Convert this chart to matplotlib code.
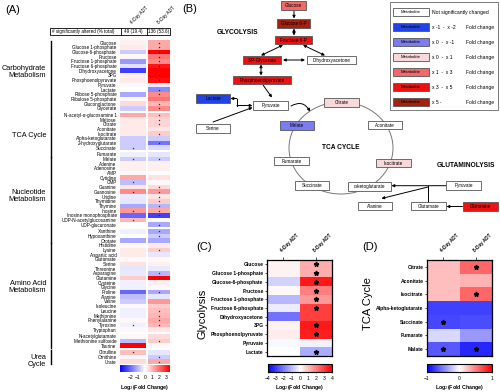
import numpy as np
import matplotlib
matplotlib.use("Agg")
import matplotlib.pyplot as plt
from matplotlib.colors import LinearSegmentedColormap
from matplotlib.patches import Rectangle, Ellipse
from matplotlib.cm import ScalarMappable
from matplotlib.colors import Normalize

plt.rcParams['font.family'] = ['Liberation Sans', 'DejaVu Sans']

# ---- panel A data (log2 fold change, 4-day / 8-day ADT) ----
a_names = ["Glucose", "Glucose 1-phosphate", "Glucose-6-phosphate", "Fructose",
           "Fructose 1-phosphate", "Fructose 6-phosphate", "Dihydroxyacetone", "3PG",
           "Phosphoenolpyruvate", "Pyruvate", "Lactate", "Ribose 5-phosphate",
           "Ribulose 5-phosphate", "Gluconolactone", "Glycerate",
           "N-acetyl-α-glucosamine 1", "Maltose", "Citrate", "Aconitate", "Isocitrate",
           "Alpha-ketoglutarate", "2-hydroxyglutarate", "Succinate",
           "Fumarate", "Malate", "Adenine", "Adenosine", "AMP", "Cytidine", "CMP",
           "Guanine", "Guanosine", "Uridine", "Thymidine", "Thymine", "Inosine",
           "Inosine monophosphate", "UDP-N-acetylglucosamine", "UDP-glucuronate",
           "Xanthine", "Hypoxanthine", "Orotate", "Histidine", "Lysine", "Aspartic acid",
           "Glutamate", "Serine", "Threonine", "Asparagine", "Glutamine", "Cysteine",
           "Glycine", "Proline", "Alanine", "Valine", "Isoleucine", "Leucine",
           "Methionine", "Phenylalanine", "Tyrosine", "Tryptophan",
           "N-acetylglutamate", "Methionine sulfoxide", "Taurine",
           "Citrulline", "Ornithine", "Urate"]
a_d4 = [0.2, 0.3, -0.7, 0.1, -1.4, -0.4, -2.6, 0.2, 0.3, -0.1, 0.0, -1.2, 0.1, 0.5, -0.7,
        1.2, 0.3, 0.3, 0.3, 0.3, -0.7, -0.7, -0.7,
        -0.2, -0.7, 0.2, 0.2, 0.1, 1.2, -0.9, 0.35, 1.6, -0.3, -0.35, -1.2, 1.4,
        -2.1, 1.0, 0.0, -0.2, 0.0, -1.2, 0.1, 0.3, 0.3, 0.1, 0.4, -0.35, -0.3, 0.7,
        -0.2, -0.2, -2.1, -0.9, -0.7, 0.1, -0.2, -0.2, 0.1, -0.2, 0.1,
        0.1, -0.9, 3.5, 0.9, -0.1, 0.5]
a_d8 = [1.2, 1.2, 3.5, 1.9, 1.6, 3.2, 3.5, 3.5, 3.3, -0.3, -1.6, 1.6, 1.9, 1.0, 1.6,
        0.9, 0.6, 0.6, 0.35, 0.7, -0.7, -1.9, -0.5,
        -0.35, -0.7, 0.2, 0.2, 0.0, 0.4, 0.1, 0.5, 1.4, 0.35, 0.7, -1.0, 1.2,
        -2.6, 0.1, -1.2, -1.2, -0.7, -1.2, 0.3, 0.7, -0.35, 0.1, 0.2, -0.3, -1.0, 3.5,
        0.2, 0.1, -1.2, -0.35, 1.4, 0.7, 0.9, 1.0, 1.2, 1.0, 0.35,
        0.5, 0.7, 0.1, -0.35, -0.7, 1.2]
a_sig4 = [22, 24, 29, 31, 35, 37, 59, 64]
a_sig8 = [0, 1, 2, 3, 4, 5, 7, 8, 10, 11, 13, 14, 15, 16, 17, 19, 21, 24, 30, 31, 32,
          33, 34, 35, 36, 38, 39, 40, 43, 48, 49, 52, 56, 57, 58, 59, 62, 65, 66]
a_gap_after = [14, 22, 38, 60, 63]
a_groups = ["Carbohydrate\nMetabolism", "TCA Cycle", "Nucleotide\nMetabolism",
            "Amino Acid\nMetabolism", "Urea\nCycle"]
a_group_rows = [(0, 15), (16, 23), (24, 41), (42, 63), (64, 66)]
a_counts = ["49 (19.4)", "136 (53.6)"]
a_ticks = [-2, -1, 0, 1, 2, 3]

# ---- panel C / D data ----
c_names = ["Glucose", "Glucose 1-phosphate", "Glucose-6-phosphate", "Fructose",
           "Fructose 1-phosphate", "Fructose 6-phosphate", "Dihydroxyacetone", "3PG",
           "Phosphoenolpyruvate", "Pyruvate", "Lactate"]
c_d4 = [0.2, 0.2, -0.7, 0.1, -1.1, -0.3, -2.2, 0.2, 0.3, -0.1, 0.0]
c_d8 = [1.3, 1.3, 3.6, 2.0, 1.6, 3.0, 3.0, 3.6, 3.5, -0.2, -1.3]
c_sig4 = []
c_sig8 = [0, 1, 2, 3, 4, 5, 7, 8, 10]
c_ticks = [-4, -3, -2, -1, 0, 1, 2, 3, 4]

d_names = ["Citrate", "Aconitate", "Isocitrate", "Alpha-ketoglutarate", "Succinate",
           "Fumarate", "Malate"]
d_d4 = [0.25, 0.25, 0.25, -0.75, -0.72, -0.15, -0.65]
d_d8 = [0.6, 0.3, 0.6, -0.75, -0.7, -0.4, -0.85]
d_sig4 = [4, 6]
d_sig8 = [0, 2, 6]
d_ticks = [-1, 0, 1]

columns = ["4-Day ADT", "8-Day ADT"]

# ---- panel B: pathway nodes and their change class ----
b_labels = ["Glucose", "Glucose 6-P", "Fructose 6-P", "3-P-Glycerate", "Dihydroxyacetone",
            "Phosphoenolpyruvate", "Lactate", "Pyruvate", "Citrate", "Serine", "Malate",
            "Aconitate", "Fumarate", "Isocitrate", "Succinate", "α-ketoglutarate",
            "Pyruvate", "Alanine", "Glutamate", "Glutamine"]
b_class = [4, 6, 5, 5, 0, 5, 1, 0, 3, 0, 2, 0, 0, 3, 0, 0, 0, 0, 0, 5]
legend_text = ["Not significantly changed", "x -1  -  x -2", "x 0  -  x -1", "x 0  -  x 1",
               "x 1  -  x 3", "x 3  -  x 5", "x 5 -"]

class_colors = ["#ffffff", "#2143e6", "#7c7cf0", "#f8d8d8", "#f06a6a", "#ee1111", "#a4200f"]
b_boxes = [(281, 1, 306, 10), (277, 19, 310, 28), (275, 36, 312, 44), (243, 56, 281, 64),
           (307, 56, 356, 64), (233, 76, 291, 84), (196, 94, 230, 103), (253, 101, 288, 110),
           (324, 98, 359, 107), (196, 124, 230, 133), (280, 121, 314, 130),
           (368, 121, 402, 129), (274, 157, 309, 165), (376, 159, 411, 167),
           (295, 181, 329, 190), (348, 182, 391, 191), (446, 181, 481, 190),
           (358, 202, 392, 210), (411, 202, 446, 210), (463, 202, 498, 211)]

W, H = 500, 392
fig = plt.figure(figsize=(5, 3.92), dpi=100)
bwr = LinearSegmentedColormap.from_list('bwr2', ['#0000ff', '#ffffff', '#ff0000'])


def px_axes(x0, y0, x1, y1):
    return fig.add_axes([x0 / W, 1 - y1 / H, (x1 - x0) / W, (y1 - y0) / H])


ov = px_axes(0, 0, W, H)
ov.set_xlim(0, W)
ov.set_ylim(H, 0)
ov.axis('off')

# ================= panel A =================
axA = px_axes(120, 40.4, 170, 364)
Z = []
yedges = [0.0]
ys = []
y = 0.0
for i in range(len(a_names)):
    Z.append([a_d4[i], np.nan, a_d8[i]])
    ys.append(y + 0.5)
    y += 1
    yedges.append(y)
    if i in a_gap_after:
        Z.append([np.nan, np.nan, np.nan])
        y += 0.43
        yedges.append(y)
xedges = [0, 1, 1.06, 1.92]
axA.pcolormesh(xedges, yedges, np.ma.masked_invalid(np.array(Z)), cmap=bwr,
               vmin=-3.5, vmax=3.5)
axA.set_xlim(0, 1.92)
axA.set_ylim(y, 0)
axA.set_yticks(ys)
axA.set_yticklabels(a_names, fontsize=3.3)
axA.tick_params(axis='y', length=0, pad=2.5)
axA.set_xticks([])
for s in axA.spines.values():
    s.set_visible(False)
axA.plot([0.5] * len(a_sig4), [ys[i] for i in a_sig4], ls='none', marker='*',
         ms=1.1, mew=0.2, color='#222222')
axA.plot([1.49] * len(a_sig8), [ys[i] for i in a_sig8], ls='none', marker='*',
         ms=1.1, mew=0.2, color='#222222')
tr = axA.get_yaxis_transform()
offs = [-1.5, -0.4, -0.8, -1.8, 0.9]
for name, (r0, r1), off in zip(a_groups, a_group_rows, offs):
    axA.plot([-1.38, -1.38], [ys[r0] - 0.45, ys[r1] + 0.45], color='k', lw=1.0,
             transform=tr, clip_on=False)
    axA.text(-1.48, (ys[r0] + ys[r1]) / 2 + off, name, transform=tr, ha='right',
             va='center', fontsize=5.3, multialignment='right', linespacing=1.05)

caxA = px_axes(120, 365, 170, 371.7)
cb = fig.colorbar(ScalarMappable(Normalize(-3.5, 3.5), bwr), cax=caxA,
                  orientation='horizontal', ticks=a_ticks)
cb.outline.set_visible(False)
caxA.tick_params(labelsize=3.6, length=0, pad=2.5)
ov.text(145, 387, 'Log$_2$(Fold Change)', ha='center', va='center', fontsize=3.8,
        fontweight='bold')

# header table
ov.add_patch(Rectangle((50, 28.3), 120, 6.7, fill=False, lw=0.6, ec='k'))
ov.plot([120.7, 120.7], [28.3, 35], color='k', lw=0.6)
ov.plot([146.7, 146.7], [28.3, 35], color='k', lw=0.6)
ov.text(52, 31.8, '# significantly altered (% total)', fontsize=3.3, va='center')
ov.text(133.7, 31.8, a_counts[0], fontsize=3.3, va='center', ha='center')
ov.text(159, 31.8, a_counts[1], fontsize=3.3, va='center', ha='center')
for x, lab in zip([133, 160], columns):
    ov.text(x, 25, lab, fontsize=3.3, rotation=45, ha='left', va='bottom',
            rotation_mode='anchor')
ov.text(5, 10, '(A)', fontsize=8, va='center')

# ================= panel B =================
ov.text(182, 9, '(B)', fontsize=8, va='center')
ov.add_patch(Ellipse((341, 148), 104, 92, fill=False, ec='#777777', lw=0.7, zorder=1))
for lab, cl, (x0, y0, x1, y1) in zip(b_labels, b_class, b_boxes):
    ov.add_patch(Rectangle((x0, y0), x1 - x0, y1 - y0, fc=class_colors[cl],
                           ec='#555555', lw=0.6, zorder=3))
    ov.text((x0 + x1) / 2, (y0 + y1) / 2, lab, fontsize=3.3, ha='center', va='center',
            zorder=4)


def arrow(p0, p1, style='-|>', **kw):
    ov.annotate('', xy=p1, xytext=p0,
                arrowprops=dict(arrowstyle=style, lw=0.7, color='k', shrinkA=0,
                                shrinkB=0, mutation_scale=4, **kw), zorder=2)


arrow((294, 10.5), (294, 18.5))
arrow((294, 28.5), (294, 35.5), '<|-|>')
arrow((283, 45), (261, 55.5), '<|-|>')
arrow((303, 45), (325, 55.5), '<|-|>')
arrow((283, 60), (305, 60), '<|-|>')
arrow((261, 64.5), (261, 75.5), '<|-|>')
arrow((263, 85), (272, 97.5))
ov.plot([237, 237], [98.5, 105.5], color='k', lw=0.7)
arrow((237, 98.5), (230.5, 98.5))
arrow((237, 105.5), (252.5, 105.5))
arrow((213, 122), (252.5, 107.5))
arrow((291, 106), (310, 111.5), connectionstyle='arc3,rad=-0.5')
arrow((446, 185.7), (391.5, 185.7))
ov.plot([427.7, 427.7], [185.7, 201.8], color='k', lw=0.7)
arrow((428, 187), (381.5, 198.5))
arrow((462.5, 206.5), (446.5, 206.5))

ov.text(238, 32, 'GLYCOLYSIS', fontsize=4.8, fontweight='bold', ha='center', va='center')
ov.text(341, 147.5, 'TCA CYCLE', fontsize=4.8, fontweight='bold', ha='center',
        va='center')
ov.text(466, 165, 'GLUTAMINOLYSIS', fontsize=4.8, fontweight='bold', ha='center',
        va='center')

# legend
ov.add_patch(Rectangle((390, 2), 108, 108, fill=False, ec='#666666', lw=0.6))
for k, txt in enumerate(legend_text):
    yc = 12 + k * 15
    ov.add_patch(Rectangle((393, yc - 4), 36, 8, fc=class_colors[k], ec='#555555',
                           lw=0.6))
    ov.text(411, yc, 'Metabolite', fontsize=3.2, ha='center', va='center')
    ov.text(432, yc, txt, fontsize=3.6, va='center')
    if k > 0:
        ov.text(494, yc, 'Fold change', fontsize=3.6, va='center', ha='right')


# ================= panels C and D =================
def small_heat(box, names, d4, d8, s4, s8, vlim, ticks, cbox, title, tpos, lab, lpos):
    ax = px_axes(*box)
    M = np.array([d4, d8]).T
    ax.pcolormesh(np.arange(3), np.arange(len(names) + 1), M, cmap=bwr,
                  vmin=-vlim, vmax=vlim)
    ax.set_ylim(len(names), 0)
    ax.set_yticks(np.arange(len(names)) + 0.5)
    ax.set_yticklabels(names, fontsize=3.6, fontweight='bold')
    ax.tick_params(axis='y', length=1.5, width=0.5, pad=1)
    ax.xaxis.tick_top()
    ax.set_xticks([0.5, 1.5])
    ax.set_xticklabels([])
    ax.tick_params(axis='x', length=2, width=0.5)
    for s in ax.spines.values():
        s.set_linewidth(0.9)
    ax.plot([0.5] * len(s4), np.array(s4) + 0.5, ls='none', marker='*', ms=3.5, color='k')
    ax.plot([1.5] * len(s8), np.array(s8) + 0.5, ls='none', marker='*', ms=3.5, color='k')
    cax = px_axes(*cbox)
    cb = fig.colorbar(ScalarMappable(Normalize(-vlim, vlim), bwr), cax=cax,
                      orientation='horizontal', ticks=ticks)
    cb.outline.set_linewidth(0.8)
    cax.tick_params(labelsize=3.6, length=1, width=0.4, pad=2)
    x0, x1 = box[0], box[2]
    cw = (x1 - x0) / 2
    for j, c in enumerate(columns):
        ov.text(x0 + cw * (j + 0.5), 253, c, fontsize=3.3, fontweight='bold',
                rotation=45, ha='left', va='bottom', rotation_mode='anchor')
    ov.text((cbox[0] + cbox[2]) / 2, 387, 'Log$_2$(Fold Change)', ha='center',
            va='center', fontsize=3.8, fontweight='bold')
    ov.text(tpos[0], tpos[1], title, rotation=90, fontsize=8, ha='center', va='center')
    ov.text(lpos[0], lpos[1], lab, fontsize=8, va='center')


small_heat((267, 260, 332, 356), c_names, c_d4, c_d8, c_sig4, c_sig8, 4, c_ticks,
           (268, 364, 332, 372), 'Glycolysis', (203, 314), '(C)', (196, 247))
small_heat((427, 260, 492, 356), d_names, d_d4, d_d8, d_sig4, d_sig8, 1, d_ticks,
           (427, 364, 492, 372), 'TCA Cycle', (368, 304), '(D)', (362, 247))

fig.savefig('out.png', dpi=100)
